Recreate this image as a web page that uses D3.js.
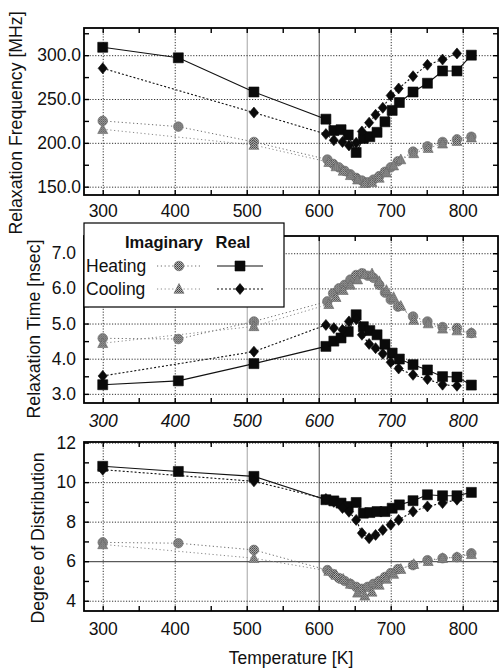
<!DOCTYPE html>
<html><head><meta charset="utf-8">
<script src="https://cdn.jsdelivr.net/npm/d3@7"></script>
<style>
body{margin:0;background:#fff;}
svg{display:block;font-family:"Liberation Sans",Arial,Helvetica,sans-serif;}
</style></head><body>
<svg id="chart" width="500" height="671"></svg>
<script>
// Measurement temperatures [K] for each series
const heatRealT = [300,405,510,610,621,631,641,652,662,671,681,692,702,712,731,751,772,792,812];
const coolRealT = [300,510,610,621,633,642,652,660,670,679,689,700,711,731,751,772,792];
const heatImagT = [300,405,510,612,620,628,636,644,652,660,668,676,684,692,700,710,731,751,772,792,812];
const coolImagT = [300,510,614,624,634,644,654,664,674,684,694,704,714,732,752,772,792,812];

// Relaxation frequency [MHz]
const freqHeatReal = [309,297,258,227,214,215,209,189,205,207,212,224,237,246,258,268,282,282,300];
const freqCoolReal = [285,234.5,210,203,201,197,200,213,223,232,240,254,262,276,289,295,302];
const freqHeatImag = [225,218.5,201,181,176,172,168,164,160,157,155,158,162,167,172,179,190,196,201,204,207];
const freqCoolImag = [215.5,197.5,178,173,168,163,158,154,155,160,166,174,181,188,194,199,202,206];

// Relaxation time [nsec]
const timeHeatReal = [3.26,3.37,3.86,4.35,4.50,4.59,4.77,5.25,4.91,4.80,4.68,4.41,4.16,3.99,3.83,3.68,3.49,3.48,3.25];
const timeCoolReal = [3.51,4.20,4.96,4.87,4.82,5.06,5.12,4.68,4.42,4.30,4.14,3.90,3.72,3.54,3.42,3.26,3.23];
const timeHeatImag = [4.58,4.56,5.06,5.63,5.86,6.0,6.1,6.25,6.38,6.43,6.36,6.3,6.1,5.88,5.68,5.48,5.2,5.06,4.9,4.87,4.73];
const timeCoolImag = [4.44,4.92,5.55,5.75,5.95,6.1,6.25,6.4,6.42,6.2,5.95,5.75,5.5,5.1,5.0,4.85,4.8,4.73];

// Degree of distribution
const distHeatReal = [10.80,10.54,10.29,9.11,9.05,8.94,8.77,8.97,8.43,8.46,8.51,8.51,8.68,8.85,9.06,9.36,9.31,9.31,9.48];
const distCoolReal = [10.63,10.04,9.15,9.0,8.69,8.5,8.09,7.42,7.16,7.33,7.58,7.84,8.09,8.51,8.77,8.94,9.11];
const distHeatImag = [6.95,6.91,6.57,5.55,5.35,5.15,5.0,4.85,4.7,4.6,4.7,4.85,5.0,5.2,5.4,5.6,5.8,6.05,6.15,6.2,6.4];
const distCoolImag = [6.85,6.15,5.5,5.3,5.1,4.85,4.4,4.25,4.45,4.8,5.1,5.35,5.6,5.85,6.0,6.15,6.2,6.35];

// Axis ticks and labels
const xTicks = [300,400,500,600,700,800];
const xMinor = [300,350,400,450,500,550,600,650,700,750,800];
const freqTicks = [150,200,250,300];
const timeTicks = [3,4,5,6,7];
const distTicks = [4,6,8,10,12];
const seriesNames = ["Heating","Cooling"];
const partNames = ["Imaginary","Real"];

const svg = d3.select("#chart");
const FONT = "Liberation Sans, Arial, Helvetica, sans-serif";

// textured grey fill for the imaginary-part markers
const defs = svg.append("defs");
const pat = defs.append("pattern").attr("id","grain").attr("width",2).attr("height",2)
  .attr("patternUnits","userSpaceOnUse");
pat.append("rect").attr("width",2).attr("height",2).attr("fill","#b4b4b4");
pat.append("rect").attr("width",1).attr("height",1).attr("fill","#3c3c3c");
pat.append("rect").attr("x",1).attr("y",1).attr("width",1).attr("height",1).attr("fill","#5a5a5a");

const x = d3.scaleLinear().domain([274, 849]).range([84, 498]);

const panels = [
  {top:28, bottom:195, domain:[140.5,331], ticks:freqTicks, fmt:d3.format(".1f"), minorStep:25,
   labX:81, xLabY:217, italic:false, title:"Relaxation Frequency [MHz]", titleX:22, titleY:123,
   data:[freqHeatImag, freqCoolImag, freqHeatReal, freqCoolReal]},
  {top:236, bottom:403, domain:[2.74,7.49], ticks:timeTicks, fmt:d3.format(".1f"), minorStep:0.5,
   labX:76, xLabY:427, italic:true, title:"Relaxation Time [nsec]", titleX:40, titleY:329,
   data:[timeHeatImag, timeCoolImag, timeHeatReal, timeCoolReal]},
  {top:442, bottom:611, domain:[3.48,12.03], ticks:distTicks, fmt:d3.format("d"), minorStep:1,
   labX:76, xLabY:635, italic:false, title:"Degree of Distribution", titleX:44, titleY:538,
   data:[distHeatImag, distCoolImag, distHeatReal, distCoolReal]}
];
const temps = [heatImagT, coolImagT, heatRealT, coolRealT];

// marker shapes
const sq = "M-5,-5H5V5H-5Z";
const dia = "M0,-5.5L4.6,0L0,5.5L-4.6,0Z";
const tri = "M0,-5.5L5,4.3L-5,4.3Z";

const styles = [
  {line:{stroke:"#6a6a6a", dash:"1.2,2.6", w:1}, mark:"circle"},
  {line:{stroke:"#8a8a8a", dash:"1.2,2.6", w:1}, mark:tri},
  {line:{stroke:"#111", dash:null, w:1.1}, mark:sq},
  {line:{stroke:"#111", dash:"2,2", w:1.1}, mark:dia}
];

function drawMarker(g, shape, isGrey){
  if (shape === "circle") {
    g.append("circle").attr("r",4.8).attr("fill","url(#grain)").attr("stroke","#666").attr("stroke-width",0.6);
  } else {
    g.append("path").attr("d",shape)
      .attr("fill", isGrey ? "url(#grain)" : "#0a0a0a")
      .attr("stroke", isGrey ? "#666" : "#0a0a0a").attr("stroke-width", 0.6);
  }
}

panels.forEach((p) => {
  const y = d3.scaleLinear().domain(p.domain).range([p.bottom, p.top]);
  const g = svg.append("g");
  const h = p.bottom - p.top;

  // grid lines
  g.append("g").attr("transform",`translate(0,${p.top})`)
    .call(d3.axisBottom(x).tickValues(xTicks).tickSize(h).tickFormat(""))
    .call(a => a.select(".domain").remove())
    .call(a => a.selectAll(".tick line")
      .attr("stroke", d => d === 600 ? "#333" : (d === 500 ? "#999" : "#333"))
      .attr("stroke-width", d => d >= 500 && d <= 600 ? 0.9 : 1)
      .attr("stroke-dasharray", d => (d === 600 || d === 500) ? null : "1.2,1.6"));
  g.append("g").attr("transform",`translate(84,0)`)
    .call(d3.axisRight(y).tickValues(p.ticks).tickSize(498-84).tickFormat(""))
    .call(a => a.select(".domain").remove())
    .call(a => a.selectAll(".tick line").attr("stroke","#333")
      .attr("stroke-dasharray", d => (p.ticks === distTicks && d === 6) ? null : "1.2,1.6"));

  // data lines, then markers on top (imaginary parts underneath)
  p.data.forEach((vals, i) => {
    const pts = temps[i].map((t, k) => [t, vals[k]]);
    const st = styles[i];
    g.append("path").datum(pts)
      .attr("d", d3.line().x(d => x(d[0])).y(d => y(d[1])))
      .attr("fill","none").attr("stroke", st.line.stroke).attr("stroke-width", st.line.w)
      .attr("stroke-dasharray", st.line.dash);
  });
  p.data.forEach((vals, i) => {
    const st = styles[i];
    temps[i].forEach((t, k) => {
      const m = g.append("g").attr("transform",`translate(${x(t)},${y(vals[k])})`);
      drawMarker(m, st.mark, i < 2);
    });
  });

  // frame
  g.append("rect").attr("x",84).attr("y",p.top).attr("width",498-84).attr("height",h)
    .attr("fill","none").attr("stroke","#000").attr("stroke-width",1.8);

  // inward minor ticks
  const tickStyle = a => a.call(s => s.select(".domain").remove())
    .call(s => s.selectAll(".tick line").attr("stroke","#000").attr("stroke-width",1.4));
  g.append("g").attr("transform",`translate(0,${p.bottom})`)
    .call(d3.axisBottom(x).tickValues(xMinor).tickSize(-5).tickFormat("")).call(tickStyle);
  g.append("g").attr("transform",`translate(0,${p.top})`)
    .call(d3.axisTop(x).tickValues(xMinor).tickSize(-5).tickFormat("")).call(tickStyle);
  const yMinor = d3.range(Math.ceil(p.domain[0]/p.minorStep)*p.minorStep, p.domain[1], p.minorStep);
  g.append("g").attr("transform",`translate(84,0)`)
    .call(d3.axisLeft(y).tickValues(yMinor).tickSize(-5).tickFormat("")).call(tickStyle);
  g.append("g").attr("transform",`translate(498,0)`)
    .call(d3.axisRight(y).tickValues(yMinor).tickSize(-5).tickFormat("")).call(tickStyle);

  // tick labels
  g.append("g").attr("transform",`translate(0,${p.xLabY})`)
    .call(d3.axisBottom(x).tickValues(xTicks).tickSize(0).tickPadding(0).tickFormat(d3.format("d")))
    .call(a => a.select(".domain").remove())
    .call(a => a.selectAll("text").attr("dy",0).attr("y",0)
      .attr("font-size",17.5).attr("font-family",FONT).attr("fill","#111")
      .attr("font-style", p.italic ? "italic" : "normal"));
  g.append("g").attr("transform",`translate(${p.labX},0)`)
    .call(d3.axisLeft(y).tickValues(p.ticks).tickSize(0).tickPadding(0).tickFormat(p.fmt))
    .call(a => a.select(".domain").remove())
    .call(a => a.selectAll("text").attr("font-size",17.5).attr("font-family",FONT).attr("fill","#111"));

  // y title
  svg.append("text").attr("transform",`translate(${p.titleX},${p.titleY}) rotate(-90)`)
    .attr("text-anchor","middle").attr("font-size",17.7).attr("fill","#111").text(p.title);
});

// x title
svg.append("text").attr("x",291).attr("y",664).attr("text-anchor","middle")
  .attr("font-size",17.5).attr("fill","#111").text("Temperature [K]");

// legend
const lg = svg.append("g");
lg.append("rect").attr("x",84).attr("y",223).attr("width",200).attr("height",84)
  .attr("fill","#fff").attr("stroke","#000").attr("stroke-width",1.2);
lg.append("text").attr("x",164).attr("y",248).attr("text-anchor","middle")
  .attr("font-size",16.5).attr("font-weight","bold").attr("fill","#111").text(partNames[0]);
lg.append("text").attr("x",233).attr("y",248).attr("text-anchor","middle")
  .attr("font-size",16.5).attr("font-weight","bold").attr("fill","#111").text(partNames[1]);
const rowY = [266, 289];
seriesNames.forEach((name, r) => {
  lg.append("text").attr("x",86).attr("y",rowY[r]+6).attr("font-size",17.5).attr("fill","#111").text(name);
  const si = styles[r], sr = styles[r+2];
  lg.append("line").attr("x1",157).attr("x2",201).attr("y1",rowY[r]).attr("y2",rowY[r])
    .attr("stroke",si.line.stroke).attr("stroke-width",1).attr("stroke-dasharray",si.line.dash);
  drawMarker(lg.append("g").attr("transform",`translate(179,${rowY[r]})`), si.mark, true);
  lg.append("line").attr("x1",217).attr("x2",263).attr("y1",rowY[r]).attr("y2",rowY[r])
    .attr("stroke",sr.line.stroke).attr("stroke-width",1.1).attr("stroke-dasharray",sr.line.dash);
  drawMarker(lg.append("g").attr("transform",`translate(240,${rowY[r]})`), sr.mark, false);
});
</script>
</body></html>
